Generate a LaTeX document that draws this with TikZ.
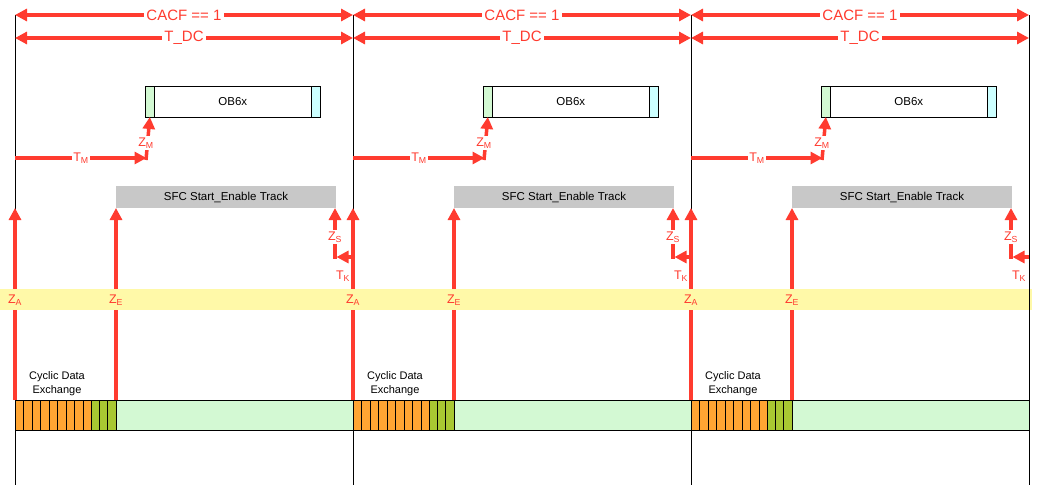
\documentclass[tikz,border=0pt]{standalone}
\usepackage{fontspec}
\setmainfont{Liberation Sans}
\usetikzlibrary{arrows.meta}
\definecolor{cred}{HTML}{FF3B2F}
\definecolor{corange}{HTML}{FFA533}
\definecolor{cgreen}{HTML}{A8C832}
\definecolor{clgreen}{HTML}{D3F9D3}
\definecolor{cyellow}{HTML}{FFF9A8}
\definecolor{cgray}{HTML}{C8C8C8}
\definecolor{ccyan}{HTML}{CCFFFF}
\begin{document}
\begin{tikzpicture}[x=1pt,y=-1pt,
  redarrow/.style={draw=cred, line width=3.5pt, -{Triangle[length=12pt,width=12pt]}},
  dblarrow/.style={draw=cred, line width=3.5pt, {Triangle[length=12pt,width=12pt]}-{Triangle[length=12pt,width=12pt]}},
  toplabel/.style={fill=white, text=cred, font=\fontsize{15}{17}\selectfont, inner sep=2pt},
  redlabel/.style={fill=white, text=cred, font=\fontsize{12.5}{14}\selectfont, inner sep=1.5pt},
  bandlabel/.style={text=cred, font=\fontsize{12.5}{14}\selectfont, inner sep=0pt},
  boxline/.style={draw=black, line width=0.9pt},
  obbox/.style={boxline, fill=white, minimum width=157.7pt, minimum height=30.5pt, inner sep=0pt, outer sep=0pt, font=\fontsize{11.5}{13}\selectfont},
  strip/.style={boxline, minimum width=8.3pt, minimum height=30.5pt, inner sep=0pt, outer sep=0pt},
  sfcbox/.style={fill=cgray, minimum width=220pt, minimum height=22pt, inner sep=0pt, outer sep=0pt, font=\fontsize{11.5}{13}\selectfont},
  cdetext/.style={align=center, font=\fontsize{11}{14}\selectfont, inner sep=0pt},
  timeline/.style={draw=black, line width=0.9pt}
]
\useasboundingbox (0,0) rectangle (1052,492);

% time grid coordinates
\foreach \p in {0,1,2,3}{
  \pgfmathsetmacro\X{15+338*\p}
  \coordinate (top\p) at (\X,15);
  \coordinate (dc\p) at (\X,38);
  \coordinate (bot\p) at (\X,485);
  \coordinate (tkstart\p) at (\X,257);
}
\foreach \p in {0,1,2}{
  \draw[timeline] (top\p) -- (bot\p);
}

\foreach \p in {0,1,2}{
  \pgfmathsetmacro\X{15+338*\p}
  \pgfmathtruncatemacro\q{\p+1}
  % OB6x
  \node[obbox, anchor=west] (ob\p) at (\X+139,101.75) {OB6x};
  \node[strip, fill=clgreen, anchor=east] (obl\p) at (ob\p.west) {};
  \node[strip, fill=ccyan, anchor=west] (obr\p) at (ob\p.east) {};
  % SFC
  \node[sfcbox, anchor=north west] (sfc\p) at (\X+101,186) {SFC Start\_Enable Track};
  % data bar
  \foreach \i in {0,...,8}{
    \draw[boxline, fill=corange] (\X+\i*8.5,400) rectangle ++(8.5,30);
  }
  \foreach \i in {0,1,2}{
    \draw[boxline, fill=cgreen] (\X+76.5+\i*8.17,400) rectangle ++(8.17,30);
  }
  \draw[boxline, fill=clgreen] (\X+101,400) rectangle (\X+338,430);
  \node[cdetext] (cde\p) at (\X+42,384) {Cyclic Data\\Exchange};
  % coordinates
  \coordinate (tm\p) at (\X,158);
  \coordinate (tme\p) at (\X+131.5,158);
  \coordinate (zmb\p) at (\X+131,160);
  \coordinate (za\p) at (\X,400);
  \coordinate (zat\p) at (\X,208);
  \coordinate (ze\p) at (\X+101,400);
  \coordinate (zsb\p) at (\X+320,258.5);
  \coordinate (zst\p) at (\X+320,208);
  \coordinate (tke\p) at (\X+321.5,257);
}

% red arrows
\foreach \p in {0,1,2}{
  \pgfmathtruncatemacro\q{\p+1}
  \draw[dblarrow] (top\p) -- (top\q);
  \draw[dblarrow] (dc\p) -- (dc\q);
  \draw[redarrow] (tm\p) -- (tme\p);
  \draw[redarrow] (zmb\p) -- (obl\p.south);
  \draw[redarrow] (za\p) -- (zat\p);
  \draw[redarrow] (ze\p) -- (sfc\p.south west);
  \draw[redarrow] (zsb\p) -- (zst\p);
  \draw[redarrow] (tkstart\q) -- (tke\p);
}

% yellow band
\fill[cyellow] (0,289) rectangle (1032,310);
\draw[timeline] (top3) -- (bot3);

% labels
\foreach \p in {0,1,2}{
  \pgfmathsetmacro\X{15+338*\p}
  \node[toplabel] (lcacf\p) at (\X+169,15) {CACF == 1};
  \node[toplabel] (ltdc\p) at (\X+169,38) {T\_DC};
  \node[redlabel] (ltm\p) at (\X+66,158) {T\textsubscript{M}};
  \node[redlabel] (lzm\p) at (\X+131,143) {Z\textsubscript{M}};
  \node[redlabel] (lzs\p) at (\X+320,237) {Z\textsubscript{S}};
  \node[bandlabel] (ltk\p) at (\X+328,276) {T\textsubscript{K}};
  \node[bandlabel] (lza\p) at (\X,300) {Z\textsubscript{A}};
  \node[bandlabel] (lze\p) at (\X+101,300) {Z\textsubscript{E}};
}
\end{tikzpicture}
\end{document}
